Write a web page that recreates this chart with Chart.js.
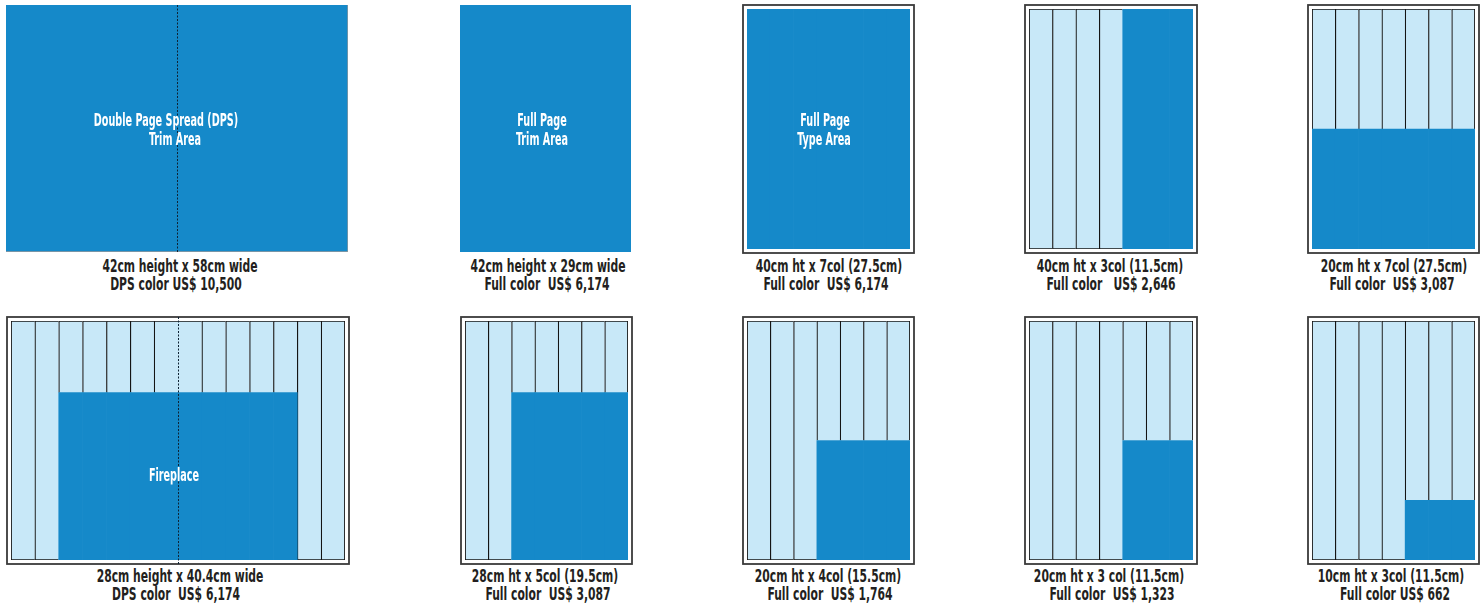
<!DOCTYPE html>
<html><head><meta charset="utf-8">
<script src="https://cdn.jsdelivr.net/npm/chart.js@4.4.1/dist/chart.umd.min.js"></script>
<style>
html,body{margin:0;padding:0;background:#fff}
body{width:1484px;height:608px;position:relative;overflow:hidden;font-family:"DejaVu Sans Condensed","Liberation Sans Narrow","Roboto",sans-serif;font-weight:bold}
canvas{position:absolute}
.lbl{position:absolute;white-space:pre;color:#231f20;font-size:17px;line-height:18px;transform:translate(-50%,-50%) scaleX(0.705)}
.in{position:absolute;white-space:pre;color:#fff;font-size:17px;line-height:19px;transform:translate(-50%,-50%) scaleX(0.63)}
</style></head><body>
<script>
// ---------- DATA ----------
const pageColumns = ['Col 1','Col 2','Col 3','Col 4','Col 5','Col 6','Col 7'];
const spreadColumns = ['L1','L2','L3','L4','L5','L6','L7','R1','R2','R3','R4','R5','R6','R7'];
const trimPages = [['Left page','Right page'], ['Page']];
const trimHeightCm = 42;
const typeHeightCm = 40;
const trimTitles = [['Double Page Spread (DPS)', 'Trim Area'], ['Full Page', 'Trim Area']];
const trimLine1 = ['42cm height x 58cm wide', '42cm height x 29cm wide'];
const trimLine2 = ['DPS color US$ 10,500', 'Full color  US$ 6,174'];

// framed (type-area) layouts
const adLine1 = ['40cm ht x 7col (27.5cm)', '40cm ht x 3col (11.5cm)', '20cm ht x 7col (27.5cm)',
                 '28cm height x 40.4cm wide', '28cm ht x 5col (19.5cm)', '20cm ht x 4col (15.5cm)',
                 '20cm ht x 3 col (11.5cm)', '10cm ht x 3col (11.5cm)'];
const adLine2 = ['Full color  US$ 6,174', 'Full color   US$ 2,646', 'Full color  US$ 3,087',
                 'DPS color  US$ 6,174', 'Full color  US$ 3,087', 'Full color  US$ 1,764',
                 'Full color  US$ 1,323', 'Full color US$ 662'];
const adHeightsCm = [40, 40, 20, 28, 28, 20, 20, 10];
const adColumnCounts = [7, 3, 7, 10, 5, 4, 3, 3];
const adStartColumn = [0, 4, 0, 2, 2, 3, 4, 4];
const adIsSpread = [false, false, false, true, false, false, false, false];
const adTitles = [['Full Page', 'Type Area'], [], [], ['Fireplace'], [], [], [], []];

// ---------- LAYOUT ----------
const DARK = '#1589C9', LIGHT = '#C8E8F8', LINE = '#141414';
const trimBoxes = [{x:6, y:5, w:342, h:247}, {x:460, y:5, w:171, h:247}];
const trimTitleX = [[165.5, 174.5], [542, 542]];
const trimLabelX = [[180, 176], [548, 547]];
const framedBoxes = [
  {x:743,y:5,w:170,h:247},{x:1025,y:5,w:171,h:247},{x:1308,y:5,w:170,h:247},
  {x:7,y:317,w:341,h:246},{x:461,y:317,w:170,h:246},{x:743,y:317,w:170,h:246},
  {x:1025,y:317,w:171,h:246},{x:1308,y:317,w:170,h:246}];
const framedTitleX = [[825, 824], [], [], [174], [], [], [], []];
const framedLabelX = [[829, 826], [1110, 1111], [1394, 1392], [180, 176], [545, 548],
                      [828, 830], [1109, 1112], [1391, 1395]];

const framePlugin = {
  id:'frame',
  afterDraw(chart, args, opts){
    if(!opts.show) return;
    const a = chart.chartArea, c = chart.ctx;
    c.save(); c.strokeStyle = '#3a3a3a'; c.lineWidth = 1.8;
    c.strokeRect(a.left-4, a.top-4, a.right-a.left+8, a.bottom-a.top+8);
    c.restore();
  }
};
const dashPlugin = {
  id:'dash',
  afterDraw(chart, args, opts){
    if(!opts.show) return;
    const a = chart.chartArea, c = chart.ctx;
    const xm = Math.round((a.left + a.right)/2) + 0.5;
    c.save(); c.strokeStyle = '#0e2233'; c.lineWidth = 1; c.setLineDash([2,1.5]);
    c.beginPath(); c.moveTo(xm, a.top - opts.ext); c.lineTo(xm, a.bottom + opts.ext); c.stroke();
    c.restore();
  }
};
Chart.register(framePlugin, dashPlugin);

function makeCanvas(x, y, w, h){
  const cv = document.createElement('canvas');
  cv.width = w; cv.height = h;
  cv.style.left = x + 'px'; cv.style.top = y + 'px';
  cv.style.width = w + 'px'; cv.style.height = h + 'px';
  document.body.appendChild(cv);
  return cv;
}
function addText(cls, cx, cy, txt){
  const d = document.createElement('div');
  d.className = cls; d.style.left = cx + 'px'; d.style.top = cy + 'px';
  d.textContent = txt; document.body.appendChild(d);
}
const baseOpts = (pad, ymax, frame, dash, ext) => ({
  responsive:false, animation:false, devicePixelRatio:1,
  layout:{padding:pad},
  scales:{x:{display:false, grid:{display:false}}, y:{display:false, min:0, max:ymax}},
  plugins:{legend:{display:false}, tooltip:{enabled:false}, title:{display:false},
           frame:{show:frame}, dash:{show:dash, ext:ext}}
});
const rowLabelY = y => y < 100 ? [266, 284] : [576, 594];

// trim panels
trimBoxes.forEach((b, k) => {
  const cv = makeCanvas(b.x, b.y, b.w, b.h);
  const pages = trimPages[k];
  new Chart(cv, {
    type:'bar',
    data:{labels:pages, datasets:[{
      data: pages.map(() => [0, trimHeightCm]),
      backgroundColor: DARK, borderColor:'#9a9a9a', borderSkipped:false,
      borderWidth: k === 0 ? (ctx => ({left:0, top:0, right: ctx.dataIndex === pages.length-1 ? 1 : 0, bottom:1})) : 0,
      categoryPercentage:1, barPercentage:1
    }]},
    options: baseOpts(0, trimHeightCm, false, pages.length === 2, 0)
  });
  trimTitles[k].forEach((t, j) => addText('in', trimTitleX[k][j], 120 + 19*j, t));
  const ly = rowLabelY(b.y);
  addText('lbl', trimLabelX[k][0], ly[0], trimLine1[k]);
  addText('lbl', trimLabelX[k][1], ly[1], trimLine2[k]);
});

// framed panels
framedBoxes.forEach((b, k) => {
  const cols = adIsSpread[k] ? spreadColumns : pageColumns;
  const adH = adHeightsCm[k], s = adStartColumn[k], n = adColumnCounts[k];
  const inAd = i => i >= s && i < s + n;
  const dark = cols.map((c, i) => inAd(i) ? [0, adH] : null);
  const light = cols.map((c, i) => inAd(i) ? (adH >= typeHeightCm ? null : [adH, typeHeightCm]) : [0, typeHeightCm]);
  const gutter = adIsSpread[k] ? cols.length/2 : -1;
  const cv = makeCanvas(b.x - 1, b.y - 1, b.w + 3, b.h + 3);
  new Chart(cv, {
    type:'bar',
    data:{labels:cols, datasets:[
      {data: dark, backgroundColor: DARK, borderWidth:0, grouped:false, categoryPercentage:1, barPercentage:1},
      {data: light, backgroundColor: LIGHT, borderColor: LINE, borderSkipped:false, grouped:false,
       categoryPercentage:1, barPercentage:1,
       borderWidth: ctx => {
         const i = ctx.dataIndex, v = ctx.raw;
         return {left: i === gutter ? 0 : 1.2, right: i === cols.length-1 ? 1.2 : 0, top: 1.2,
                 bottom: (v && v[0] === 0) ? 1.2 : 0};
       }}
    ]},
    options: baseOpts(5, typeHeightCm, true, adIsSpread[k], 4)
  });
  const cy0 = adIsSpread[k] ? 475 : 120;
  adTitles[k].forEach((t, j) => addText('in', framedTitleX[k][j], cy0 + 19*j, t));
  const ly = rowLabelY(b.y);
  addText('lbl', framedLabelX[k][0], ly[0], adLine1[k]);
  addText('lbl', framedLabelX[k][1], ly[1], adLine2[k]);
});
</script>
</body></html>
